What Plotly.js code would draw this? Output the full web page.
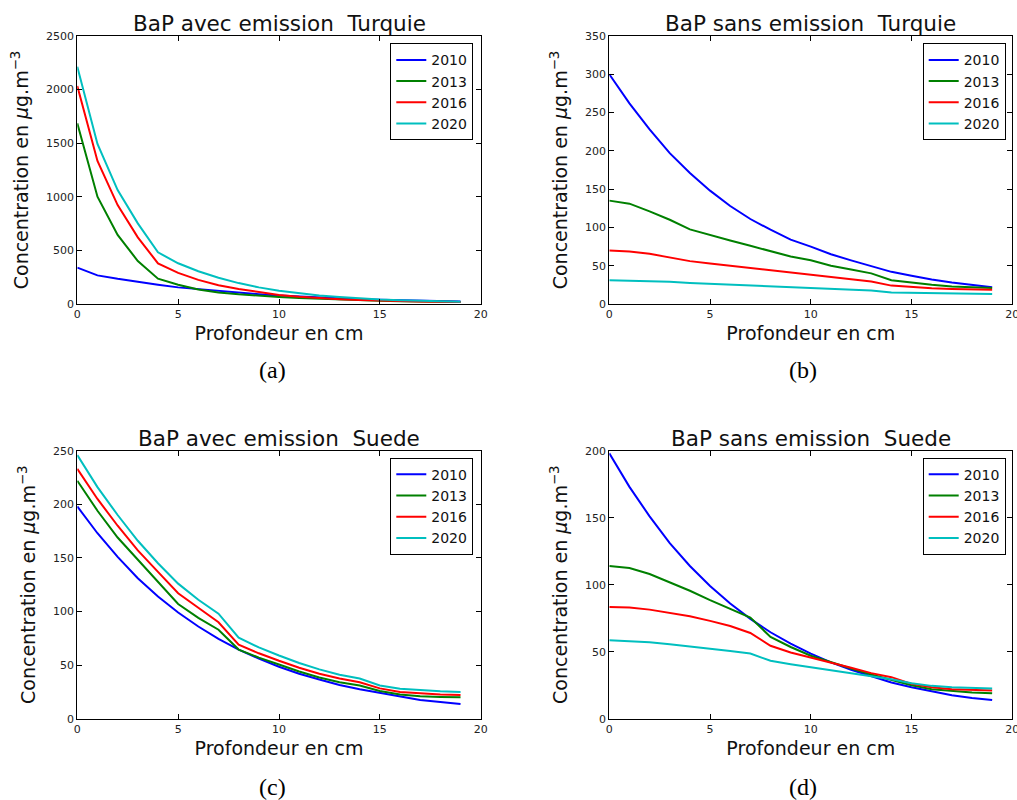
<!DOCTYPE html>
<html>
<head>
<meta charset="utf-8">
<script src="https://cdn.plot.ly/plotly-3.0.1.min.js"></script>
<style>html,body{margin:0;padding:0;background:#fff;}#chart{width:1017px;height:800px;}</style>
</head>
<body>
<div id="chart"></div>
<script>
// Depth (cm)
const depth = [0,1,2,3,4,5,6,7,8,9,10,11,12,13,14,15,16,17,18,19];
const years = ['2010','2013','2016','2020'];
const colors = ['#0000ff','#008000','#ff0000','#00bfbf'];

// (a) BaP avec emission Turquie
const turAvec2010 = [339,267,235,205,180,155,138,120,105,92,80,70,60,52,45,40,35,30,27,24];
const turAvec2013 = [1685,1001,644,401,236,180,135,108,90,76,66,56,48,41,35,30,26,23,21,19];
const turAvec2016 = [2034,1334,923,622,379,290,225,175,140,110,84,68,55,45,37,31,27,24,21,19];
const turAvec2020 = [2214,1493,1063,752,482,380,305,245,195,155,124,100,80,65,52,42,35,29,25,22];

// (b) BaP sans emission Turquie
const turSans2010 = [300,262,228,197,171,148,128,111,97,84,75,65,57,49,42,37,32,28,25,22];
const turSans2013 = [135,131,121,110,97.5,90,83,76,69,62,57,50,45,40,31,28,25,23,22,21];
const turSans2016 = [70,68.5,65.5,61,56,53,50,47,44,41,38,35,32,29.5,24,22,20.5,19.5,19,18.5];
const turSans2020 = [31,30.5,30,29,27.5,26.5,25.5,24.5,23,22,21,19.5,18.5,17.5,15,14.5,14,13.5,13.5,13];

// (c) BaP avec emission Suede
const sueAvec2010 = [198,173,151,131,114,99,86,74.5,64.5,56,48.5,42,36.5,31.5,27.5,24,20.5,17.5,15.5,13.7];
const sueAvec2013 = [222,194,169,148,128,107,94,83,64.5,57,50.5,44,38.5,34,31,25.8,22.5,21,20.3,20];
const sueAvec2016 = [233,205,180,157,137,117,103.5,90,69,61,54,47.5,42,37.5,34,28.3,25,23.5,22.5,22];
const sueAvec2020 = [246,216,190,166,145,126,111,98,75.5,66.5,59,52,46,41,37.5,31,28,26.5,25.5,25];

// (d) BaP sans emission Suede
const sueSans2010 = [198,173,151,131,114,99,86,74.5,64.5,56,48.5,42,36.5,31.5,27,23.4,20.5,17.5,15.5,13.9];
const sueSans2013 = [114,112.5,108,102,95.5,88.5,82,75.5,61,53.5,47,42,37.5,33,29,25,22,20.5,19.5,19];
const sueSans2016 = [83.4,82.9,81.4,79.2,76.5,73,69.2,64,54.4,49.4,45.7,42,38,34,31,26,23.5,22,21.5,21];
const sueSans2020 = [58.6,58,57,55.6,54,52.4,50.6,48.6,43.2,40.7,38.5,36,34,32,29.5,26.5,24.5,23.5,23,22.6];

const panels = [
  {title:'BaP avec emission\u00a0 Turquie', series:[turAvec2010,turAvec2013,turAvec2016,turAvec2020], ymax:2500, dy:500, caption:'(a)'},
  {title:'BaP sans emission\u00a0 Turquie', series:[turSans2010,turSans2013,turSans2016,turSans2020], ymax:350, dy:50, caption:'(b)'},
  {title:'BaP avec emission\u00a0 Suede', series:[sueAvec2010,sueAvec2013,sueAvec2016,sueAvec2020], ymax:250, dy:50, caption:'(c)'},
  {title:'BaP sans emission\u00a0 Suede', series:[sueSans2010,sueSans2013,sueSans2016,sueSans2020], ymax:200, dy:50, caption:'(d)'}
];

const W = 1017, H = 800;
const colDom = [[77.3/W, 480.7/W],[609.3/W, 1012.3/W]];
const rowDom = [[1-304/H, 1-36/H],[1-718.7/H, 1-450.7/H]];
const legTop = [1-43.3/H, 1-457.7/H];
const legRight = [473.3/W, 1005.7/W];

const FONT = 'DejaVu Sans, sans-serif';
const traces = [];
const layout = {
  width: W, height: H, autosize:false,
  margin:{l:0,r:0,t:0,b:0},
  paper_bgcolor:'#ffffff', plot_bgcolor:'#ffffff',
  font:{family:FONT, color:'#000'},
  showlegend:true,
  annotations:[]
};

panels.forEach((p, i) => {
  const col = i % 2, row = Math.floor(i/2);
  const n = i === 0 ? '' : String(i+1);
  const legName = i === 0 ? 'legend' : 'legend' + (i+1);
  p.series.forEach((s, k) => {
    traces.push({
      x: depth, y: s, type:'scatter', mode:'lines', name: years[k],
      line:{color: colors[k], width:2},
      xaxis:'x'+n, yaxis:'y'+n, legend: legName, hoverinfo:'skip'
    });
  });
  const yt = [];
  for (let v = 0; v <= p.ymax; v += p.dy) yt.push(v);
  layout['xaxis'+n] = {
    domain: colDom[col], anchor:'y'+n, range:[0,20],
    tickvals:[0,5,10,15,20], ticktext:['0','5','10','15','20'],
    ticks:'inside', ticklen:5, tickwidth:1, tickcolor:'#000',
    ticklabeloverflow:'allow',
    showline:true, mirror:'ticks', linecolor:'#000', linewidth:1,
    showgrid:false, zeroline:false,
    tickfont:{family:FONT, size:11, color:'#222'},
    title:{text:'Profondeur en cm', font:{family:FONT, size:19, color:'#111'}, standoff:6}
  };
  layout['yaxis'+n] = {
    domain: rowDom[row], anchor:'x'+n, range:[0,p.ymax],
    tickvals: yt,
    ticks:'inside', ticklen:5, tickwidth:1, tickcolor:'#000',
    ticklabeloverflow:'allow',
    showline:true, mirror:'ticks', linecolor:'#000', linewidth:1,
    showgrid:false, zeroline:false,
    tickfont:{family:FONT, size:11, color:'#222'},
    title:{text:'Concentration en <i>μ</i>g.m<sup>−3</sup>', font:{family:FONT, size:19, color:'#111'}, standoff:12}
  };
  layout[legName] = {
    x: legRight[col], xanchor:'right', y: legTop[row], yanchor:'top',
    bgcolor:'#ffffff', bordercolor:'#000', borderwidth:1,
    font:{family:FONT, size:14, color:'#111'},
    xref:'paper', yref:'paper'
  };
  layout.annotations.push({
    text: p.title, xref:'paper', yref:'paper',
    x:(colDom[col][0]+colDom[col][1])/2, y: rowDom[row][1],
    xanchor:'center', yanchor:'bottom', yshift:-2, showarrow:false,
    font:{family:FONT, size:21.5, color:'#111'}
  });
  layout.annotations.push({
    text: p.caption, xref:'paper', yref:'paper',
    x:(col===0?272:803)/W, y: 1-(row===0?370:787)/H,
    xanchor:'center', yanchor:'middle', showarrow:false,
    font:{family:'Liberation Serif, DejaVu Serif, serif', size:24, color:'#000'}
  });
});

Plotly.newPlot('chart', traces, layout, {staticPlot:true, displayModeBar:false});
</script>
</body>
</html>
